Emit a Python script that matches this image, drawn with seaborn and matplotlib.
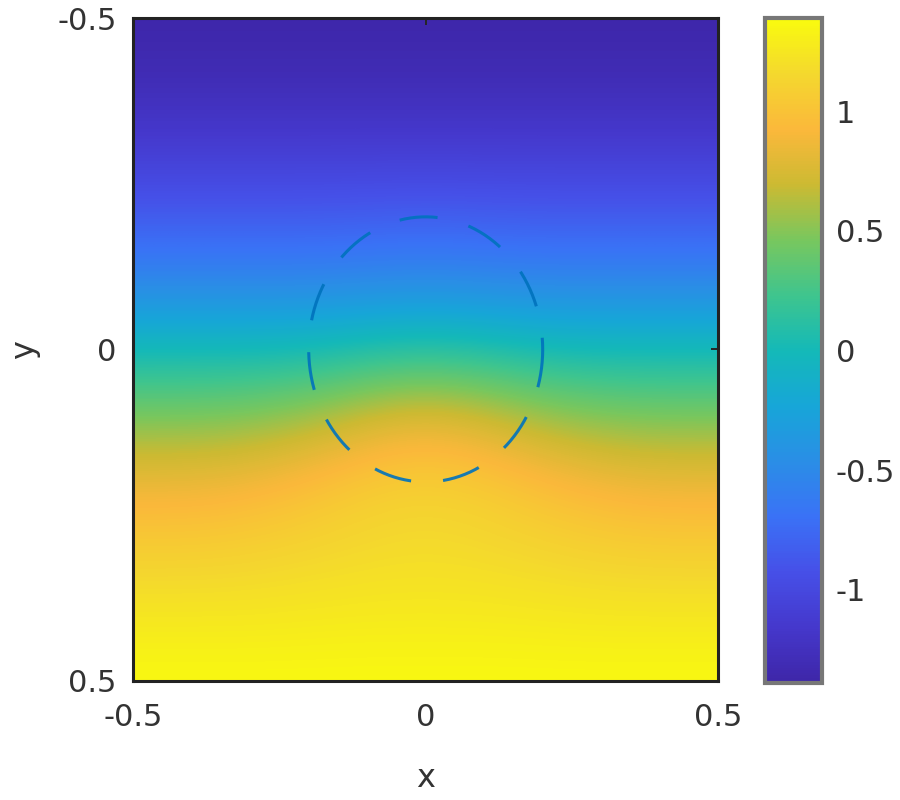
import numpy as np
import matplotlib
matplotlib.use("Agg")
import matplotlib.pyplot as plt
import seaborn as sb

# grid nodes (x across, y down) and field values
x_nodes = [-0.5, -0.4, -0.3, -0.2, -0.1, 0.0, 0.1, 0.2, 0.3, 0.4, 0.5]
y_nodes = [-0.5, -0.4, -0.3, -0.2, -0.1, 0.0, 0.1, 0.2, 0.3, 0.4, 0.5]
field = [
    [-1.38, -1.38, -1.38, -1.38, -1.38, -1.38, -1.38, -1.38, -1.38, -1.38, -1.38],
    [-1.30, -1.30, -1.30, -1.30, -1.30, -1.30, -1.30, -1.30, -1.30, -1.30, -1.30],
    [-1.10, -1.10, -1.10, -1.10, -1.10, -1.10, -1.10, -1.10, -1.10, -1.10, -1.10],
    [-0.85, -0.85, -0.85, -0.85, -0.84, -0.83, -0.84, -0.85, -0.85, -0.85, -0.85],
    [-0.52, -0.52, -0.52, -0.52, -0.50, -0.48, -0.50, -0.52, -0.52, -0.52, -0.52],
    [0.00, 0.00, 0.00, 0.02, 0.08, 0.12, 0.08, 0.02, 0.00, 0.00, 0.00],
    [0.47, 0.47, 0.50, 0.58, 0.72, 0.80, 0.72, 0.58, 0.50, 0.47, 0.47],
    [0.85, 0.85, 0.89, 0.97, 1.06, 1.10, 1.06, 0.97, 0.89, 0.85, 0.85],
    [1.08, 1.08, 1.10, 1.13, 1.16, 1.18, 1.16, 1.13, 1.10, 1.08, 1.08],
    [1.25, 1.25, 1.25, 1.26, 1.27, 1.27, 1.27, 1.26, 1.25, 1.25, 1.25],
    [1.38, 1.38, 1.38, 1.38, 1.38, 1.38, 1.38, 1.38, 1.38, 1.38, 1.38],
]
c_min, c_max = -1.39, 1.39
circle_r = 0.2
axis_ticks = [-0.5, 0, 0.5]
cbar_ticks = [-1, -0.5, 0, 0.5, 1]

sb.set_style("white")
plt.rcParams["font.family"] = ["DejaVu Sans"]
plt.rcParams["axes.unicode_minus"] = False

# parula-like map
parula = sb.blend_palette(["#3e26a8", "#4538cc", "#4650e8", "#3a72f6", "#2a8ee6",
                           "#17a6d8", "#14b9b8", "#3fc58e", "#78c75e", "#ccba32",
                           "#fbb83b", "#f4d82e", "#f9fb0e"], as_cmap=True)

f = plt.figure(figsize=(9, 8), dpi=100)
ax = f.add_axes([0.148, 0.149, 0.65, 0.8285])
cax = f.add_axes([0.85, 0.146, 0.063, 0.8315])

dx = (x_nodes[1] - x_nodes[0]) / 2
dy = (y_nodes[1] - y_nodes[0]) / 2
im = ax.imshow(np.array(field), cmap=parula, vmin=c_min, vmax=c_max,
               interpolation="bicubic", aspect="auto", origin="upper",
               extent=[x_nodes[0] - dx, x_nodes[-1] + dx, y_nodes[-1] + dy, y_nodes[0] - dy])

t = np.linspace(0, 2 * np.pi, 400)
ax.plot(circle_r * np.cos(t), circle_r * np.sin(t), color="#0072bd", lw=2.2,
        linestyle=(0, (12.5, 10.5)), alpha=0.9)

ax.set_xlim(-0.5, 0.5)
ax.set_ylim(0.5, -0.5)
ax.set_xticks(axis_ticks)
ax.set_yticks(axis_ticks)
ax.set_xticklabels(["-0.5", "0", "0.5"])
ax.set_yticklabels(["-0.5", "0", "0.5"])
ax.tick_params(direction="in", length=5, width=1.4, top=True, right=True,
               labelsize=22, colors="#262626", labelcolor="#333333")
ax.tick_params(axis="x", pad=16)
ax.tick_params(axis="y", pad=12)
ax.set_xlabel("x", fontsize=23, color="#333333", labelpad=22)
ax.set_ylabel("y", fontsize=23, color="#333333", labelpad=12)
for s in ax.spines.values():
    s.set_linewidth(2.2)
    s.set_color("#222222")

cb = f.colorbar(im, cax=cax, ticks=cbar_ticks)
cb.ax.set_yticklabels(["-1", "-0.5", "0", "0.5", "1"])
cb.ax.tick_params(direction="in", length=5, width=1.4, labelsize=22,
                  colors="#262626", labelcolor="#333333", pad=10)
cb.outline.set_linewidth(3)
cb.outline.set_edgecolor("#777777")

f.savefig("out.png", dpi=100)
